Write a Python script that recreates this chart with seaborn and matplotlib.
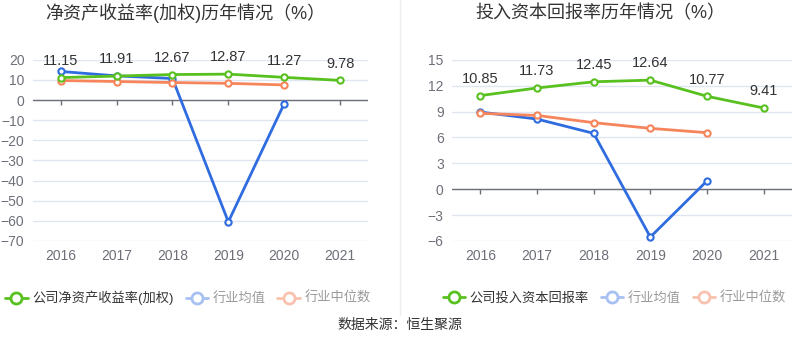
import pandas as pd
import numpy as np
import matplotlib.pyplot as plt
import seaborn as sns
from matplotlib.lines import Line2D

sns.set_theme(style="white")
plt.rcParams['font.family'] = ['Liberation Sans', 'Noto Sans CJK SC', 'DejaVu Sans']

years = [2016, 2017, 2018, 2019, 2020, 2021]

# 净资产收益率(加权)
roe_company = [11.15, 11.91, 12.67, 12.87, 11.27, 9.78]
roe_avg = [14.2, 12.0, 10.7, -60.5, -1.8, np.nan]
roe_median = [9.7, 9.2, 8.7, 8.3, 7.5, np.nan]

# 投入资本回报率
roic_company = [10.85, 11.73, 12.45, 12.64, 10.77, 9.41]
roic_avg = [8.94, 8.13, 6.47, -5.55, 0.96, np.nan]
roic_median = [8.79, 8.55, 7.71, 7.05, 6.55, np.nan]

GREEN = "#58c11f"
BLUE = "#2f6ce0"
ORANGE = "#f6855c"
GRID = "#e0e6f1"
AXIS = "#6e7079"
TEXT = "#333333"


def draw_panel(ax, company, avg, median, ylim, yticks, company_label):
    df = pd.DataFrame({"year": years, "公司": company, "均值": avg, "中位数": median})
    for col, color, z in [("均值", BLUE, 3), ("中位数", ORANGE, 3), ("公司", GREEN, 4)]:
        sub = df.dropna(subset=[col])
        sns.lineplot(data=sub, x="year", y=col, ax=ax, color=color, lw=2,
                     marker="o", markersize=4.5, markerfacecolor="white",
                     markeredgecolor=color, markeredgewidth=1.5, zorder=z)

    ax.set_xlim(2015.5, 2021.5)
    ax.set_ylim(*ylim)
    ax.set_yticks(yticks)
    ax.set_xticks(years)
    ax.set_xticklabels([str(y) for y in years])
    ax.set_xlabel("")
    ax.set_ylabel("")
    for s in ax.spines.values():
        s.set_visible(False)
    ax.yaxis.grid(True, color=GRID, lw=1)
    ax.set_axisbelow(True)
    ax.tick_params(axis="both", length=0, colors=AXIS, labelsize=10)
    ax.tick_params(axis="x", pad=6)
    ax.tick_params(axis="y", pad=6)

    # zero axis line with small ticks
    ax.axhline(0, color=AXIS, lw=1, zorder=2)
    tick_len = (ylim[1] - ylim[0]) * 5 / 181
    ax.vlines(years, -tick_len, 0, color=AXIS, lw=1, zorder=2)

    # data labels for company series
    for x, v in zip(years, company):
        ax.annotate(f"{v:.2f}", (x, v), xytext=(0, 7), textcoords="offset points",
                    ha="center", va="bottom", fontsize=10.5, color=TEXT)

    handles = [
        Line2D([], [], color=GREEN, lw=2, marker="o", markersize=8,
               markerfacecolor="white", markeredgewidth=2),
        Line2D([], [], color="#a7c1f2", lw=2, marker="o", markersize=8,
               markerfacecolor="white", markeredgewidth=2),
        Line2D([], [], color="#f9c2ae", lw=2, marker="o", markersize=8,
               markerfacecolor="white", markeredgewidth=2),
    ]
    labels = [company_label, "行业均值", "行业中位数"]
    return handles, labels


fig = plt.figure(figsize=(8, 3.58), dpi=100)
ax1 = fig.add_axes([0.041, 0.327, 0.419, 0.506])
ax2 = fig.add_axes([0.565, 0.327, 0.425, 0.506])

h1, l1 = draw_panel(ax1, roe_company, roe_avg, roe_median, (-70, 20),
                    list(range(-70, 21, 10)), "公司净资产收益率(加权)")
h2, l2 = draw_panel(ax2, roic_company, roic_avg, roic_median, (-6, 15),
                    list(range(-6, 16, 3)), "公司投入资本回报率")

fig.text(0.231, 0.962, "净资产收益率(加权)历年情况（%）", ha="center", va="center",
         fontsize=13, color=TEXT)
fig.text(0.751, 0.962, "投入资本回报率历年情况（%）", ha="center", va="center",
         fontsize=13, color=TEXT)

for handles, labels, cx in [(h1, l1, 0.235), (h2, l2, 0.768)]:
    leg = fig.legend(handles, labels, loc="center", bbox_to_anchor=(cx, 0.168), ncol=3,
                     frameon=False, fontsize=9.5, handlelength=1.7, handletextpad=0.35,
                     columnspacing=0.9)
    for i, t in enumerate(leg.get_texts()):
        t.set_color(TEXT if i == 0 else "#9a9a9a")

fig.add_artist(Line2D([0.5, 0.5], [1 - 315 / 358, 1.0], transform=fig.transFigure,
                      color="#eeeeee", lw=1))

fig.text(0.5, 1 - 325 / 358, "数据来源：恒生聚源", ha="center", va="center",
         fontsize=10, color=TEXT)

fig.savefig("out.png", dpi=100)
